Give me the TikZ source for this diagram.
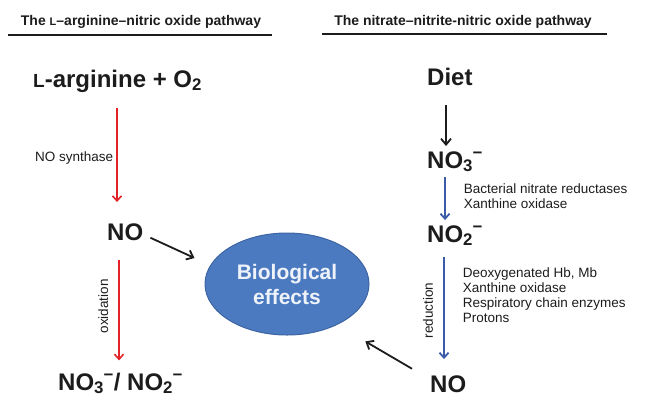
\documentclass[tikz,border=0pt]{standalone}
\usepackage{fontspec}
\setmainfont{Liberation Sans}
\usetikzlibrary{arrows.meta,shapes.geometric}
\definecolor{txtgrey}{HTML}{1C1C1C}
\definecolor{nosred}{HTML}{E32228}
\definecolor{redblue}{HTML}{3B5BA9}
\definecolor{bioblue}{HTML}{4C7AC0}
\definecolor{bioedge}{HTML}{3D64A3}
\definecolor{biotext}{HTML}{EEF3FA}
\newcommand{\scL}[1]{{\fontsize{#1}{#1}\selectfont L}}
\newcommand{\ionNO}[1]{NO\textsubscript{#1}\kern-0.5pt\textsuperscript{−}}
\tikzset{
  headtxt/.style={inner sep=0pt, anchor=base, text=txtgrey,
    font=\fontsize{14}{16}\selectfont\bfseries},
  headrule/.style={line width=1.5pt, txtgrey},
  bigtxt/.style={inner sep=0pt, anchor=base west, text=txtgrey,
    font=\fontsize{24}{28}\selectfont\bfseries},
  steptxt/.style={inner sep=0pt, text=txtgrey, align=left,
    font=\fontsize{13.5}{15}\selectfont},
  redarr/.style={nosred, line width=1.6pt, -{Straight Barb[length=5pt,width=9pt]}},
  bluarr/.style={redblue, line width=1.8pt, -{Straight Barb[length=5pt,width=9pt]}},
  blkarr/.style={txtgrey, line width=1.8pt, -{Straight Barb[length=6pt,width=10pt]}}
}
\begin{document}
\begin{tikzpicture}[x=1pt,y=-1pt]
  \useasboundingbox (0,0) rectangle (647,405);

  % Headings of the two pathways
  \node[headtxt] (headl) at (141,25) {The \scL{11}--arginine--nitric oxide pathway};
  \draw[headrule] (8,35) -- (272,35);
  \node[headtxt] (headr) at (463,25) {The nitrate--nitrite-nitric oxide pathway};
  \draw[headrule] (322,34) -- (607,34);

  % Left pathway: L-arginine -> NO -> nitrate/nitrite
  \node[bigtxt] (arg) at (33,87) {\scL{19}-arginine + O\textsubscript{2}};
  \node[bigtxt] (no1) at (107,240) {NO};
  \node[bigtxt] (nox) at (58,390) {\ionNO{3}/ \ionNO{2}};

  % Drawing step L-arginine NO
  \draw[redarr, shorten <=16pt, shorten >=21pt] ([xshift=84pt]arg.south west)
    -- ([xshift=84pt]arg.south west |- no1.north)
    node[steptxt, midway, anchor=east, xshift=-3pt] {NO synthase};

  % Drawing step NO nitrate/nitrite
  \draw[redarr, shorten <=20pt, shorten >=12pt] ([xshift=12pt]no1.south west)
    -- ([xshift=12pt]no1.south west |- nox.north)
    node[steptxt, midway, rotate=90, anchor=south, yshift=10pt] {oxidation};

  % Right pathway: diet -> nitrate -> nitrite -> NO
  \node[bigtxt] (diet) at (427,85) {Diet};
  \node[bigtxt] (no3) at (427,168) {\ionNO{3}};
  \node[bigtxt] (no2) at (427,242) {\ionNO{2}};
  \node[bigtxt] (nor) at (430,392) {NO};

  % Drawing step diet nitrate
  \draw[blkarr, shorten <=20pt, shorten >=5pt] ([xshift=19pt]diet.south west)
    -- ([xshift=19pt]diet.south west |- no3.north);

  % Drawing step nitrate nitrite
  \draw[bluarr, shorten <=5pt, shorten >=5pt] ([xshift=18pt]no3.south west)
    -- ([xshift=18pt]no3.south west |- no2.north)
    node[steptxt, pos=.45, anchor=west, xshift=18pt] {Bacterial nitrate reductases\\Xanthine oxidase};

  % Drawing step nitrite NO
  \draw[bluarr, shorten <=11pt, shorten >=16pt] ([xshift=17pt]no2.south west)
    -- ([xshift=17pt]no2.south west |- nor.north)
    node[steptxt, midway, rotate=90, anchor=south, yshift=10pt] {reduction}
    node[steptxt, pos=.38, anchor=west, xshift=18pt] {Deoxygenated Hb, Mb\\Xanthine oxidase\\Respiratory chain enzymes\\Protons};

  % Marking the biological effects
  \node[ellipse, fill=bioblue, draw=bioedge, line width=1pt, minimum width=164pt,
    minimum height=102pt, inner sep=0pt, align=center, text=biotext,
    font=\fontsize{21}{25}\selectfont\bfseries] (bio) at (287,284) {Biological\\effects};

  % Drawing NO to biological effects
  \draw[blkarr] ([xshift=7pt,yshift=-6pt]no1.east) -- ([xshift=-10pt,yshift=26pt]bio.west);
  \draw[blkarr] ([xshift=-18pt,yshift=15pt]nor.west) -- ([xshift=20pt,yshift=-21pt]bio.south east);
\end{tikzpicture}
\end{document}
